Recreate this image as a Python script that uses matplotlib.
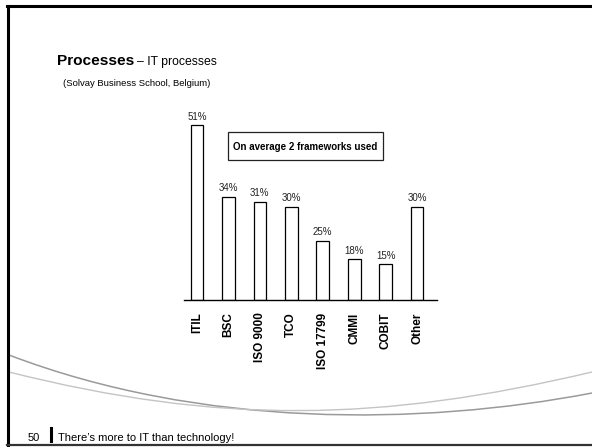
import matplotlib
matplotlib.use("Agg")
import matplotlib.pyplot as plt
from matplotlib.lines import Line2D
from matplotlib.patches import Rectangle, PathPatch
from matplotlib.path import Path

plt.rcParams['font.family'] = ['Liberation Sans', 'DejaVu Sans']

categories = ["ITIL", "BSC", "ISO 9000", "TCO", "ISO 17799", "CMMI", "COBIT", "Other"]
# bar heights as drawn in the picture (in % units of the ITIL scale)
bar_heights = [51, 30.1, 28.7, 27.2, 17.3, 11.9, 10.4, 27.2]
value_labels = ["51%", "34%", "31%", "30%", "25%", "18%", "15%", "30%"]

W, H = 592, 447
fig = plt.figure(figsize=(W / 100, H / 100), dpi=100)
fig.patch.set_facecolor("white")


def fx(x):
    return x / W


def fy(y):
    return 1 - y / H


# slide frame
fig.add_artist(Line2D([fx(8), fx(8)], [fy(6), fy(445)], color="black", lw=2.2))
fig.add_artist(Line2D([fx(7), fx(592)], [fy(6), fy(6)], color="black", lw=2.2))
fig.add_artist(Line2D([fx(7), fx(592)], [fy(445), fy(445)], color="#333333", lw=1.6))

# decorative swooshes
def swoosh(p0, p1, p2, p3, color, lw):
    verts = [(fx(p[0]), fy(p[1])) for p in (p0, p1, p2, p3)]
    path = Path(verts, [Path.MOVETO, Path.CURVE4, Path.CURVE4, Path.CURVE4])
    fig.add_artist(PathPatch(path, transform=fig.transFigure, fill=False,
                             edgecolor=color, lw=lw))

swoosh((9, 355), (200, 428), (420, 426), (592, 393), "#9a9a9a", 1.1)
swoosh((9, 372), (220, 425), (380, 422), (592, 372), "#c4c4c4", 1.0)

# titles
fig.text(fx(57), fy(65), "Processes", fontsize=11.1, fontweight="bold", va="baseline", ha="left")
fig.text(fx(137), fy(65), "\u2013 IT processes", fontsize=8.8, va="baseline", ha="left")
fig.text(fx(63), fy(86), "(Solvay Business School, Belgium)", fontsize=6.8, va="baseline", ha="left")

# footer
fig.text(fx(28), fy(441), "50", fontsize=8, va="baseline", ha="left")
fig.add_artist(Line2D([fx(51), fx(51)], [fy(428), fy(441)], color="black", lw=2.2))
fig.text(fx(58), fy(441), "There\u2019s more to IT than technology!", fontsize=8,
         va="baseline", ha="left")

# chart
ylim_top = 60
px_per_unit = 175 / 51
ax_h = ylim_top * px_per_unit
ax = fig.add_axes([fx(184), fy(300), (437 - 184) / W, ax_h / H])
x = list(range(len(categories)))
ax.bar(x, bar_heights, width=0.4, color="white", edgecolor="black", linewidth=0.9)
ax.set_xlim(-0.41, 7.63)
ax.set_ylim(0, ylim_top)
for xi, h, lab in zip(x, bar_heights, value_labels):
    ax.annotate(lab, (xi, h), xytext=(0, 2.5), textcoords="offset points",
                ha="center", va="bottom", fontsize=7, color="#222222")
ax.set_xticks(x)
ax.set_xticklabels(categories, rotation=90, fontsize=8.5, fontweight="bold")
ax.tick_params(axis="x", length=0, pad=9)
ax.set_yticks([])
for s in ["top", "right", "left"]:
    ax.spines[s].set_visible(False)
ax.spines["bottom"].set_linewidth(1.0)
ax.patch.set_alpha(0)

# callout box
fig.add_artist(Rectangle((fx(228), fy(160)), (383 - 228) / W, (160 - 132) / H,
                         transform=fig.transFigure, fill=False, edgecolor="#222222", lw=0.9))
fig.text(fx(305.5), fy(146.5), "On average 2 frameworks used", fontsize=7, fontweight="bold",
         ha="center", va="center")

fig.savefig("out.png", dpi=100, facecolor="white")
